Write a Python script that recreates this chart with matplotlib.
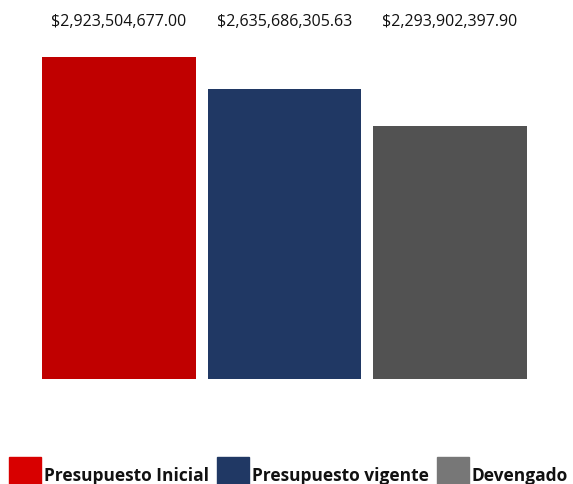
import matplotlib
matplotlib.use('Agg')
import matplotlib.pyplot as plt
from matplotlib.patches import Rectangle

categories = ["Presupuesto Inicial", "Presupuesto vigente", "Devengado"]
values = [2923504677.00, 2635686305.63, 2293902397.90]
bar_colors = ["#c00000", "#203864", "#525252"]
legend_colors = ["#d80000", "#203864", "#777777"]

W, H = 573, 484
fig = plt.figure(figsize=(W / 100, H / 100), dpi=100)

# axes placed in pixel terms: bars from x=42 to 527, baseline at y=379
left, right, top, bottom = 42, 527, 57, 379
ax = fig.add_axes([left / W, 1 - bottom / H, (right - left) / W, (bottom - top) / H])

x = list(range(len(categories)))
ax.bar(x, values, width=0.93, color=bar_colors)
ax.set_xlim(-0.465, len(categories) - 1 + 0.465)
ax.set_ylim(0, max(values))
ax.axis('off')

# value labels all on one row above the plot
for xi, v in zip(x, values):
    ax.annotate(f"${v:,.2f}", xy=(xi, 0), xycoords=('data', 'figure fraction'),
                xytext=(0, 1 - 22 / H), textcoords=('offset points', 'figure fraction'),
                ha='center', va='center', fontsize=11.5, family='Open Sans', color='#111111')

# legend drawn by hand along the bottom edge
fig.canvas.draw()
renderer = fig.canvas.get_renderer()
px = 9
for label, c in zip(categories, legend_colors):
    fig.patches.append(Rectangle((px / W, 0), 32 / W, 27 / H, transform=fig.transFigure,
                                 color=c, figure=fig))
    t = fig.text((px + 35) / W, 3 / H, label, fontsize=12.5, fontweight='bold',
                 family='Open Sans', color='#111111', ha='left', va='baseline')
    bb = t.get_window_extent(renderer)
    px = bb.x1 + 8

fig.savefig("out.png", dpi=100)
